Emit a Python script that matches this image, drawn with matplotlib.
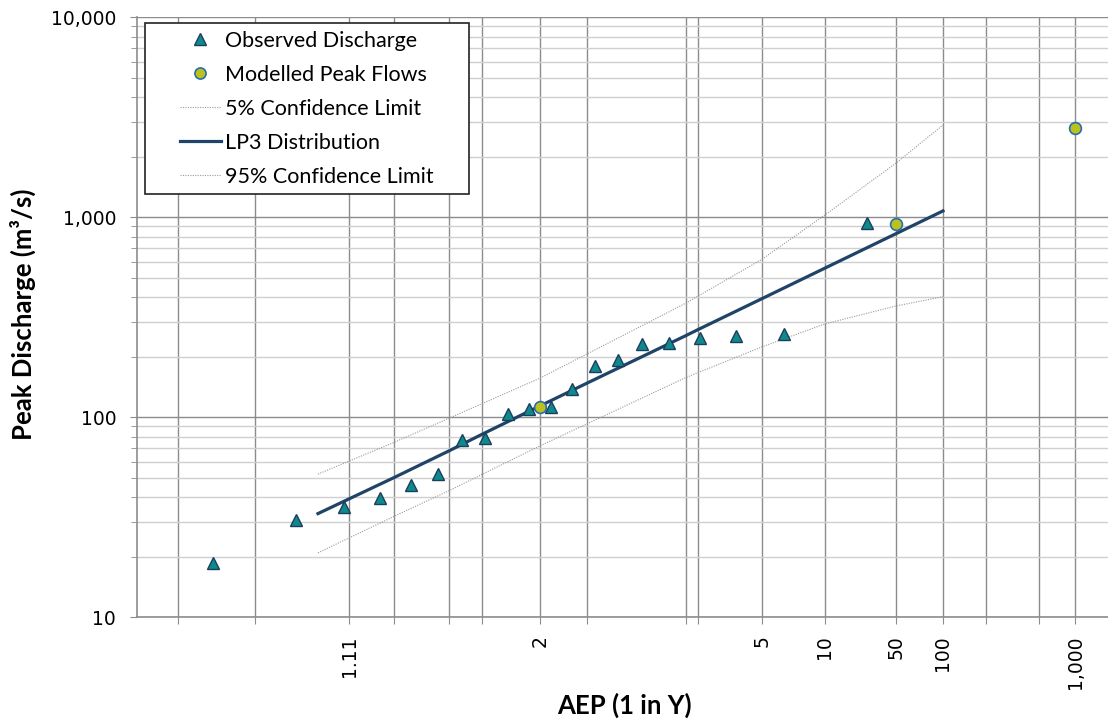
import matplotlib
matplotlib.use("Agg")
import matplotlib.pyplot as plt
from matplotlib.lines import Line2D
from matplotlib.patches import Rectangle
from matplotlib.ticker import FuncFormatter, LogLocator, NullFormatter, NullLocator
from statistics import NormalDist
import numpy as np

# Observed annual peaks (Cunnane plotting positions, AEP %)
obs_aep = [2.97, 7.92, 12.87, 17.82, 22.77, 27.72, 32.67, 37.62, 42.57, 47.52,
           52.48, 57.43, 62.38, 67.33, 72.28, 77.23, 82.18, 87.13, 92.08, 97.03]
obs_q = [940, 261, 255, 250, 234, 232, 193, 180, 138, 112,
         110, 104, 79, 77, 52, 46, 39.4, 35.5, 30.7, 18.6]

# Hydraulic model peak flows
model_aep = [50, 2, 0.1]
model_q = [112, 926, 2805]

# LP3 fit
fit_aep = [90, 80, 70, 63.21, 50, 39.35, 20, 18.13, 10, 5, 2, 1]
lp3_q = [33, 50, 68, 82, 114, 148, 256, 274, 392, 557, 827, 1076]

# confidence limits
cl_aep = [90, 80, 70, 50, 20, 10, 5, 2, 1]
cl_lower = [21, 32, 43, 72, 158, 225, 293, 360, 401]
cl_upper = [52, 75, 99, 157, 372, 617, 1027, 1862, 2893]

# probability-paper gridlines (AEP %) and the labels shown under them
grid_aep = [98.17, 95.02, 86.47, 80, 70, 63.21, 50, 39.35, 20, 18.13,
            10, 5, 2, 1, 0.5, 0.2, 0.1]
grid_text = {86.47: "1.11", 50: "2", 10: "5", 5: "10", 2: "50", 1: "100", 0.1: "1,000"}

_inv = np.vectorize(NormalDist().inv_cdf, otypes=[float])
_cdf = np.vectorize(NormalDist().cdf, otypes=[float])


def ari_to_z(y):
    y = np.maximum(np.asarray(y, dtype=float), 1.0 + 1e-12)
    p = np.clip(1.0 - 1.0 / y, 1e-9, 1.0 - 1e-9)
    return _inv(p)


def z_to_ari(z):
    z = np.clip(np.asarray(z, dtype=float), -6, 6)
    return 1.0 / (1.0 - _cdf(z))


def ari(aep_pct):
    return [100.0 / a for a in aep_pct]


W, H = 1108, 721
GRID = "#8c8c8c"
TRI_FACE = "#0f8a8c"
TRI_EDGE = "#1c3d5c"
CIRC_FACE = "#bcc21c"
CIRC_EDGE = "#2a6cb0"
LP3_COL = "#1f4467"
CL_COL = "#9a9a9a"
CL_STYLE = (0, (1, 1.2))

fig = plt.figure(figsize=(W / 100, H / 100), dpi=100)
ax = fig.add_axes([137 / W, 1 - 617.3 / H, (1110 - 137) / W, 600 / H])

ax.set_xscale("function", functions=(ari_to_z, z_to_ari))
ax.set_yscale("log")

ax.plot(ari(cl_aep), cl_lower, color=CL_COL, lw=0.8, ls=CL_STYLE, zorder=3)
ax.plot(ari(cl_aep), cl_upper, color=CL_COL, lw=0.8, ls=CL_STYLE, zorder=3)
ax.plot(ari(fit_aep), lp3_q, color=LP3_COL, lw=2.3, zorder=4)
ax.plot(ari(obs_aep), obs_q, ls="none", marker="^", ms=9, mfc=TRI_FACE,
        mec=TRI_EDGE, mew=1.0, zorder=5)
ax.plot(ari(model_aep), model_q, ls="none", marker="o", ms=8.5, mfc=CIRC_FACE,
        mec=CIRC_EDGE, mew=1.2, zorder=6)

ax.set_xlim(100 / 99, 2000)
ax.set_ylim(10, 10000)

ax.set_xticks(ari(grid_aep), labels=[grid_text.get(a, "") for a in grid_aep])
ax.xaxis.set_minor_locator(NullLocator())
ax.yaxis.set_major_locator(LogLocator(base=10))
ax.yaxis.set_minor_locator(LogLocator(base=10, subs=np.arange(2, 10)))
ax.yaxis.set_major_formatter(FuncFormatter(lambda v, _: f"{v:,.0f}"))
ax.yaxis.set_minor_formatter(NullFormatter())

ax.grid(axis="x", which="major", color=GRID, lw=1.0, zorder=0)
ax.grid(axis="y", which="major", color=GRID, lw=1.0, zorder=0)
ax.grid(axis="y", which="minor", color="#cfcfcf", lw=1.0, zorder=0)
ax.set_axisbelow(True)

for s in ("top", "right"):
    ax.spines[s].set_visible(False)
for s in ("left", "bottom"):
    ax.spines[s].set_color(GRID)
    ax.spines[s].set_linewidth(1.2)

ax.tick_params(axis="both", which="both", color=GRID, direction="out")
ax.tick_params(axis="y", which="major", length=5, pad=10, labelsize=13.5)
ax.tick_params(axis="y", which="minor", length=4)
ax.tick_params(axis="x", which="major", length=5, pad=8, labelsize=13.5)
for lab in ax.get_xticklabels():
    lab.set_rotation(90)
    lab.set_family("DejaVu Sans")
for lab in ax.get_yticklabels():
    lab.set_family("DejaVu Sans")

fig.text(624 / W, 1 - 705 / H, "AEP (1 in Y)", ha="center", va="center",
         fontsize=18.5, fontweight="bold", family="Lato")
fig.text(22.5 / W, 1 - 314 / H, "Peak Discharge (m\u00b3/s)", ha="center",
         va="center", rotation=90, fontsize=18.5, fontweight="bold", family="Lato")

# legend box drawn separately so the entries can sit well inside it
fig.add_artist(Rectangle((145 / W, 1 - 194.3 / H), 323.5 / W, 171.3 / H,
                         transform=fig.transFigure, facecolor="white",
                         edgecolor="#222222", lw=1.2, zorder=9))

handles = [
    Line2D([], [], ls="none", marker="^", ms=8, mfc=TRI_FACE, mec=TRI_EDGE, mew=1.0),
    Line2D([], [], ls="none", marker="o", ms=8, mfc=CIRC_FACE, mec=CIRC_EDGE, mew=1.2),
    Line2D([], [], color=CL_COL, lw=0.8, ls=CL_STYLE),
    Line2D([], [], color=LP3_COL, lw=2.3),
    Line2D([], [], color=CL_COL, lw=0.8, ls=CL_STYLE),
]
labels = ["Observed Discharge", "Modelled Peak Flows", "5% Confidence Limit",
          "LP3 Distribution", "95% Confidence Limit"]
leg = fig.legend(handles, labels, loc="center left",
                 bbox_to_anchor=(180 / W, 1 - 108.7 / H),
                 frameon=False, borderpad=0, borderaxespad=0,
                 prop={"family": "Lato", "size": 15.5}, handlelength=1.9,
                 handletextpad=0.19, labelspacing=0.65)
leg.set_zorder(10)

fig.savefig("out.png", dpi=100)
